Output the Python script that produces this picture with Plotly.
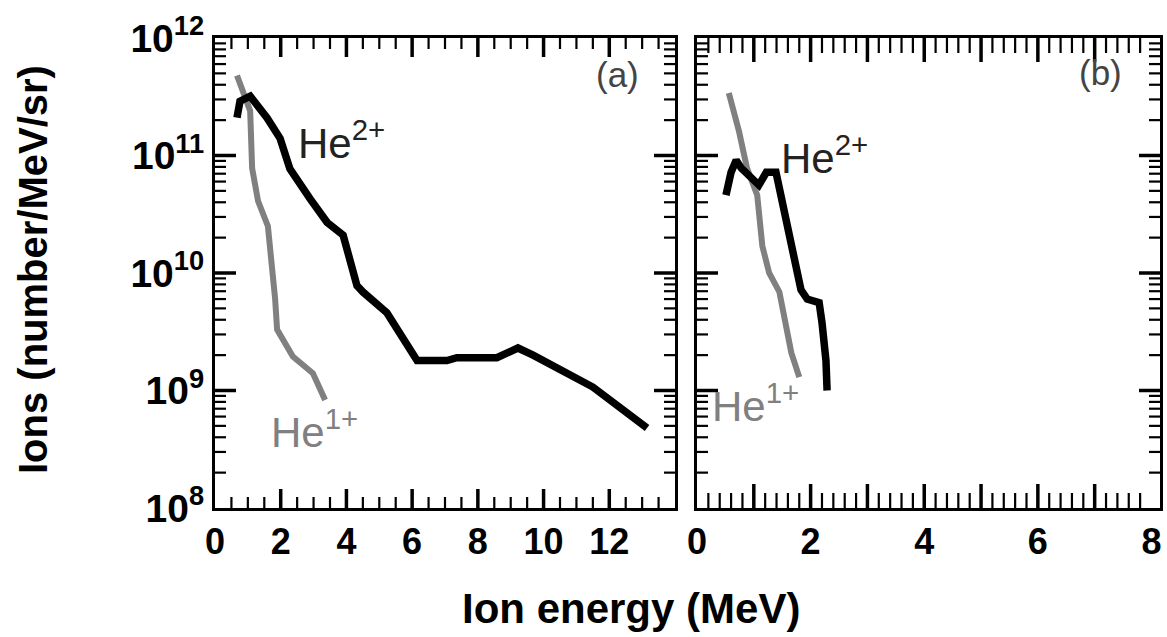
import math
import plotly.graph_objects as go
from plotly.subplots import make_subplots

# Panel (a)
a_he2_x = [0.67, 0.76, 1.07, 1.58, 1.98, 2.28, 2.89, 3.41, 3.90, 4.32, 4.50, 5.23, 6.15, 7.06, 7.36, 8.58, 9.22, 9.68, 11.5, 13.15]
a_he2_y = [2.1e11, 2.9e11, 3.2e11, 2.1e11, 1.4e11, 7.7e10, 4.3e10, 2.7e10, 2.1e10, 7.8e9, 6.9e9, 4.6e9, 1.8e9, 1.8e9, 1.9e9, 1.9e9, 2.3e9, 2.0e9, 1.07e9, 4.8e8]
a_he1_x = [0.67, 1.07, 1.13, 1.31, 1.61, 1.77, 1.83, 1.89, 2.37, 2.98, 3.35]
a_he1_y = [4.8e11, 2.4e11, 7.8e10, 4.1e10, 2.5e10, 1.0e10, 6.0e9, 3.3e9, 1.95e9, 1.4e9, 8.3e8]

# Panel (b)
b_he2_x = [0.51, 0.60, 0.69, 0.78, 1.09, 1.22, 1.39, 1.48, 1.62, 1.75, 1.83, 1.94, 2.15, 2.20, 2.27, 2.29]
b_he2_y = [4.6e10, 7.2e10, 9.1e10, 7.8e10, 5.6e10, 7.2e10, 7.2e10, 4.6e10, 2.2e10, 1.23e10, 7.2e9, 6.0e9, 5.6e9, 3.8e9, 1.8e9, 1.0e9]
b_he1_x = [0.56, 0.74, 0.88, 1.06, 1.15, 1.27, 1.45, 1.57, 1.66, 1.80]
b_he1_y = [3.4e11, 1.6e11, 7.8e10, 4.6e10, 1.7e10, 1.0e10, 6.9e9, 3.5e9, 2.1e9, 1.3e9]

y_tickvals = [1e8, 1e9, 1e10, 1e11, 1e12]
y_ticktext = ["10<sup>8</sup>", "10<sup>9</sup>", "10<sup>10</sup>", "10<sup>11</sup>", "10<sup>12</sup>"]
y_minor = [m * 10 ** e for e in range(8, 12) for m in range(2, 10)]
a_xticks = [0, 2, 4, 6, 8, 10, 12]
a_xminor = [i * 0.5 for i in range(1, 28) if i % 4 != 0]
b_xticks = [0, 1, 2, 3, 4, 5, 6, 7, 8]
b_xtext = ["0", "", "2", "", "4", "", "6", "", "8"]
b_xminor = [round(i * 0.2, 1) for i in range(1, 41) if i % 5 != 0]

BLACK = "#000000"
GRAY = "#808080"
FONT = "Liberation Sans"

fig = make_subplots(rows=1, cols=2)

fig.add_trace(go.Scatter(x=a_he1_x, y=a_he1_y, mode="lines", line=dict(color=GRAY, width=6), showlegend=False), 1, 1)
fig.add_trace(go.Scatter(x=a_he2_x, y=a_he2_y, mode="lines", line=dict(color=BLACK, width=7.5), showlegend=False), 1, 1)
fig.add_trace(go.Scatter(x=b_he1_x, y=b_he1_y, mode="lines", line=dict(color=GRAY, width=6), showlegend=False), 1, 2)
fig.add_trace(go.Scatter(x=b_he2_x, y=b_he2_y, mode="lines", line=dict(color=BLACK, width=7.5), showlegend=False), 1, 2)

W, H = 1167, 637
xd1 = [215 / W, 675 / W]
xd2 = [697 / W, 1160 / W]
yd = [1 - 508 / H, 1 - 38 / H]
XR1 = [0, 14]
XR2 = [0, 8.15]
YR = [8, 12]

common_axis = dict(showline=True, linecolor="black", linewidth=3, mirror=True, automargin=False,
                   ticks="", showgrid=False, zeroline=False)
XFONT = dict(family=FONT, size=36, color="black", weight="bold")
YFONT = dict(family=FONT, size=39, color="black", weight="bold")

fig.update_layout(
    xaxis=dict(domain=xd1, range=XR1, tickmode="array", tickvals=a_xticks, tickfont=XFONT, anchor="y",
               **common_axis),
    xaxis2=dict(domain=xd2, range=XR2, tickmode="array", tickvals=b_xticks, ticktext=b_xtext, tickfont=XFONT,
                anchor="y2", **common_axis),
    yaxis=dict(type="log", domain=yd, range=YR, tickmode="array", tickvals=y_tickvals, ticktext=y_ticktext,
               tickfont=YFONT, anchor="x", **common_axis),
    yaxis2=dict(type="log", domain=yd, range=YR, tickmode="array", tickvals=y_tickvals, showticklabels=False,
                anchor="x2", **common_axis),
)

# Inside tick marks on all four sides of each panel (pixel-length shapes placed at the tick values)
shapes = []


def xtick(xref, yref, val, length, width):
    for anchor, sgn in [(0, 1), (1, -1)]:
        shapes.append(dict(type="line", xref=xref, yref=yref + " domain", ysizemode="pixel", yanchor=anchor,
                           x0=val, x1=val, y0=0, y1=sgn * length, line=dict(color="black", width=width)))


def ytick(xref, yref, val, length, width):
    frac = (math.log10(val) - YR[0]) / (YR[1] - YR[0])
    for anchor, sgn in [(0, 1), (1, -1)]:
        shapes.append(dict(type="line", xref=xref + " domain", yref=yref + " domain", xsizemode="pixel",
                           xanchor=anchor, x0=0, x1=sgn * length, y0=frac, y1=frac,
                           line=dict(color="black", width=width)))


for v in a_xticks[1:]:
    xtick("x", "y", v, 19, 3.5)
for v in a_xminor:
    xtick("x", "y", v, 11, 2.2)
for v in b_xticks[1:-1]:
    xtick("x2", "y2", v, 24, 3.5)
for v in b_xminor:
    xtick("x2", "y2", v, 15, 2.2)
for xr, yr in [("x", "y"), ("x2", "y2")]:
    for v in y_tickvals[1:-1]:
        ytick(xr, yr, v, 21, 3.5)
    for v in y_minor:
        ytick(xr, yr, v, 11, 2.2)

fig.update_layout(shapes=shapes)

ann_font = dict(family=FONT, size=42)
annotations = [
    dict(x=2.45, y=11.13, xref="x", yref="y", text="He<sup>2+</sup>", font=dict(color="#222222", **ann_font)),
    dict(x=1.65, y=8.67, xref="x", yref="y", text="He<sup>1+</sup>", font=dict(color=GRAY, **ann_font)),
    dict(x=1.45, y=11.0, xref="x2", yref="y2", text="He<sup>2+</sup>", font=dict(color="#222222", **ann_font)),
    dict(x=0.22, y=8.89, xref="x2", yref="y2", text="He<sup>1+</sup>", font=dict(color=GRAY, **ann_font)),
]
for a in annotations:
    fig.add_annotation(xanchor="left", yanchor="middle", showarrow=False, **a)
fig.add_annotation(x=12.97, y=11.69, xref="x", yref="y", text="(a)", showarrow=False, xanchor="right",
                   yanchor="middle", font=dict(family=FONT, size=35, color="#444444"))
fig.add_annotation(x=7.52, y=11.71, xref="x2", yref="y2", text="(b)", showarrow=False, xanchor="right",
                   yanchor="middle", font=dict(family=FONT, size=35, color="#444444"))

fig.add_annotation(x=631 / W, y=1 - 608 / H, xref="paper", yref="paper", text="Ion energy (MeV)",
                   showarrow=False, xanchor="center", yanchor="middle",
                   font=dict(family=FONT, size=42, color="black", weight="bold"))
fig.add_annotation(x=33 / W, y=1 - 270 / H, xref="paper", yref="paper", text="Ions (number/MeV/sr)",
                   showarrow=False, xanchor="center", yanchor="middle", textangle=-90,
                   font=dict(family=FONT, size=40, color="black", weight="bold"))

fig.update_layout(width=W, height=H, margin=dict(l=0, r=0, t=0, b=0),
                  paper_bgcolor="white", plot_bgcolor="white", showlegend=False)

fig.write_html("out.html")
